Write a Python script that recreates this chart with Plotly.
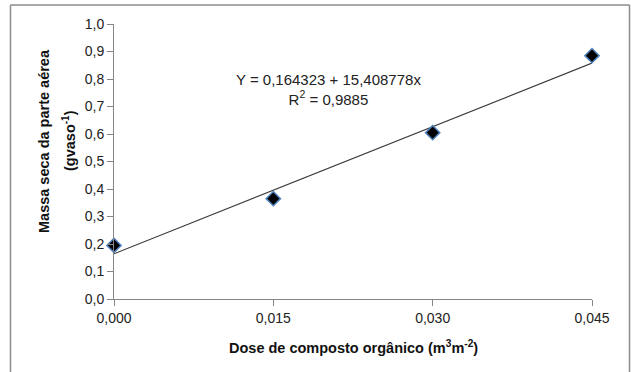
import plotly.graph_objects as go

dose = [0.000, 0.015, 0.030, 0.045]
massa = [0.195, 0.365, 0.605, 0.885]
intercept = 0.164323
slope = 15.408778
r2_text = "0,9885"
x_ticks = [0.000, 0.015, 0.030, 0.045]
x_ticktext = ["0,000", "0,015", "0,030", "0,045"]
y_ticks = [0.0, 0.1, 0.2, 0.3, 0.4, 0.5, 0.6, 0.7, 0.8, 0.9, 1.0]
y_ticktext = ["0,0", "0,1", "0,2", "0,3", "0,4", "0,5", "0,6", "0,7", "0,8", "0,9", "1,0"]
y_title_lines = ["<b>Massa seca da parte aérea</b>", "<b>(gvaso<sup>-1</sup>)</b>"]
x_title = "<b>Dose de composto orgânico (m<sup>3</sup>m<sup>-2</sup>)</b>"

fit_x = [dose[0], dose[-1]]
fit_y = [intercept + slope * v for v in fit_x]

fig = go.Figure()
fig.add_trace(go.Scatter(x=fit_x, y=fit_y, mode="lines",
                         line=dict(color="#3a3a3a", width=1.2),
                         hoverinfo="skip", cliponaxis=False))
fig.add_trace(go.Scatter(x=dose, y=massa, mode="markers",
                         marker=dict(symbol="diamond", size=11, color="black",
                                     line=dict(color="#4f81bd", width=1.5)),
                         cliponaxis=False))

W, H = 631, 372
L, R, T, B = 114, 39, 24, 73
pw, ph = W - L - R, H - T - B

def px_x(p):
    return (p - L) / pw

def px_y(p):
    return (H - B - p) / ph

border = dict(color="#8c8c8c", width=1.5)
fig.add_shape(type="line", xref="paper", yref="paper",
              x0=px_x(10.5), x1=px_x(629.5), y0=px_y(5), y1=px_y(5), line=border)
fig.add_shape(type="line", xref="paper", yref="paper",
              x0=px_x(10.5), x1=px_x(10.5), y0=px_y(5), y1=px_y(380), line=border)
fig.add_shape(type="line", xref="paper", yref="paper",
              x0=px_x(629.5), x1=px_x(629.5), y0=px_y(5), y1=px_y(380), line=border)

fig.add_annotation(xref="paper", yref="paper", x=px_x(328), y=px_y(69),
                   text=f"Y = {intercept:.6f}".replace(".", ",") + " + " +
                        f"{slope:.6f}".replace(".", ",") + "x<br>R<sup>2</sup> = " + r2_text,
                   showarrow=False, align="center",
                   font=dict(family="Liberation Sans", size=15, color="#222222"))

title_font = dict(family="Liberation Sans", size=14.5, color="#111111")
for txt, cx in zip(y_title_lines, [44, 69]):
    fig.add_annotation(xref="paper", yref="paper", x=px_x(cx), y=px_y(141),
                       text=txt, textangle=-90, showarrow=False,
                       xanchor="center", yanchor="middle", font=title_font)

fig.add_annotation(xref="paper", yref="paper", x=px_x(353), y=px_y(347),
                   text=x_title, showarrow=False,
                   xanchor="center", yanchor="middle", font=title_font)

tick_font = dict(family="Liberation Sans", size=14, color="#222222")
fig.update_layout(
    width=W, height=H,
    margin=dict(l=L, r=R, t=T, b=B, pad=0),
    paper_bgcolor="white", plot_bgcolor="white",
    showlegend=False,
    font=dict(family="Liberation Sans", color="#222222"),
    xaxis=dict(range=[0, 0.045], tickvals=x_ticks, ticktext=x_ticktext,
               showgrid=False, zeroline=False, showline=True,
               linecolor="#868686", linewidth=1,
               ticks="outside", ticklen=6, tickcolor="#868686",
               tickfont=tick_font),
    yaxis=dict(range=[0, 1.0], tickvals=y_ticks, ticktext=y_ticktext,
               showgrid=False, zeroline=False, showline=True,
               linecolor="#868686", linewidth=1,
               ticks="outside", ticklen=6, tickcolor="#868686",
               tickfont=tick_font),
)

fig.write_html("out.html", config={"displayModeBar": False},
               post_script="document.body.style.margin='0';")
